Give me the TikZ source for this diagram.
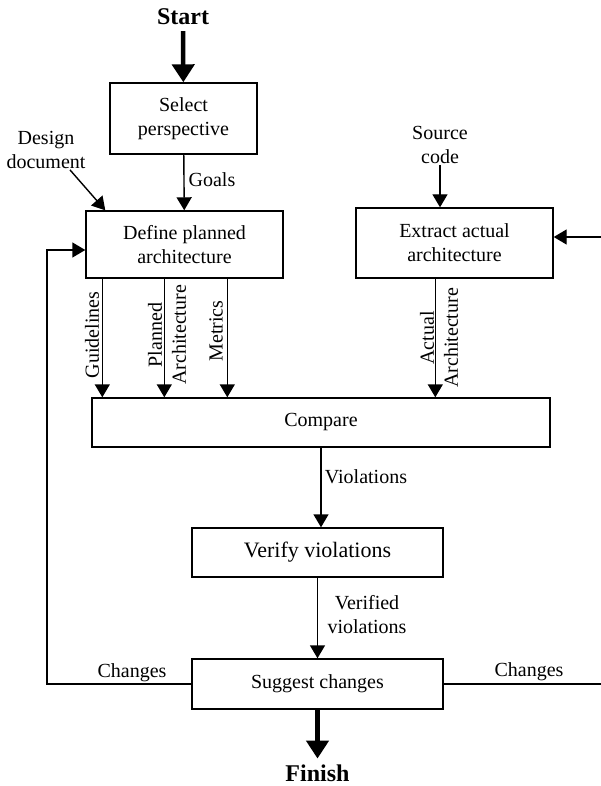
\documentclass[tikz,border=0pt]{standalone}
\usepackage{fontspec}
\setmainfont{Liberation Serif}
\usetikzlibrary{arrows.meta}
\newcommand{\diagfont}{\fontsize{20}{24}\selectfont}
\newcommand{\bigfont}{\fontsize{22}{26}\selectfont}
\newcommand{\termfont}{\fontsize{24}{28}\selectfont\bfseries}

\begin{document}
\begin{tikzpicture}[x=1pt,y=-1pt]
\useasboundingbox (0,0) rectangle (601,786);

% definitions
\tikzstyle{process} = [rectangle, draw=black, line width=1.4pt, text centered, align=center, font=\diagfont, inner sep=2pt]

\tikzstyle{flowtext} = [align=center, font=\diagfont, inner sep=1pt]

\tikzstyle{sidetext} = [flowtext, rotate=90]

\tikzstyle{terminal} = [font=\termfont, inner sep=1pt, outer sep=5pt]

\tikzstyle{arrow} = [-{Triangle[width=15pt,length=13pt]}, line width=1.4pt]
\tikzstyle{bigarrow} = [-{Triangle[width=22pt,length=18pt]}, line width=4.5pt]
\tikzstyle{plain} = [line width=1.4pt]

% the graph
\node (start) [terminal] at (183,17) {Start};

\node (sel) [process, minimum width=147pt, minimum height=71pt] at (183.5,118.5) {Select\\perspective};

\node (def) [process, minimum width=197pt, minimum height=67pt] at (184.5,244.5) {Define planned\\architecture};

\node (ext) [process, minimum width=197pt, minimum height=70pt] at (454.5,243) {Extract actual\\architecture};

\node (cmp) [process, minimum width=458pt, minimum height=49pt] at (321,422.5) {Compare};

\node (ver) [process, minimum width=251pt, minimum height=49pt, font=\bigfont] at (317.5,552.5) {Verify violations};

\node (sug) [process, minimum width=251pt, minimum height=50pt] at (317.5,684) {Suggest changes};

\node (fin) [terminal] at (317.5,773) {Finish};

% inputs and labels
\node (goals) [flowtext] at (212,180) {Goals};
\node (dd) [flowtext] at (46,150) {Design\\document};
\node (src) [flowtext] at (440,145) {Source\\code};

\node (gl) [sidetext] at (92,335) {Guidelines};
\node (pa) [sidetext] at (167,335) {Planned\\Architecture};
\node (me) [sidetext] at (216,331) {Metrics};
\node (aa) [sidetext] at (439,338) {Actual\\Architecture};

\node (viol) [flowtext] at (366,477) {Violations};
\node (vviol) [flowtext] at (367,615) {Verified\\violations};
\node (chl) [flowtext] at (132,673) {Changes};
\node (chr) [flowtext] at (529,672) {Changes};

\coordinate (lp) at (47,250);
\coordinate (rin) at (601,237);
\coordinate (rout) at (601,684);

% connectors
\draw [bigarrow] (start) -- (sel);
\draw [arrow] (sel) -- (def);
\draw [arrow] ([xshift=24pt]dd.south) -- ([xshift=20pt]def.north west);
\draw [arrow] (src.south) -- (src.south |- ext.north);
\draw [arrow] (rin) -- (rin -| ext.east);

\draw [arrow] (def.south west) ++(17,0) coordinate (g1) -- (g1 |- cmp.north);
\draw [arrow] (def.south west) ++(79,0) coordinate (g2) -- (g2 |- cmp.north);
\draw [arrow] (def.south west) ++(142,0) coordinate (g3) -- (g3 |- cmp.north);
\draw [arrow] (ext.south west) ++(80,0) coordinate (a1) -- (a1 |- cmp.north);

\draw [arrow] (cmp.south) -- (cmp.south |- ver.north);
\draw [arrow] (ver) -- (sug);
\draw [bigarrow] (sug) -- (fin);

\draw [arrow] (sug.west) -| (lp) -- (lp -| def.west);
\draw [plain] (sug.east) -- (rout);

\end{tikzpicture}
\end{document}
